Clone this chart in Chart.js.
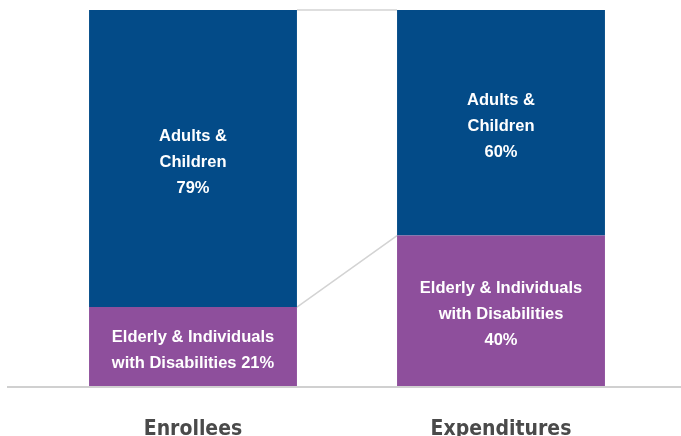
<!DOCTYPE html>
<html>
<head>
<meta charset="utf-8">
<script src="https://cdn.jsdelivr.net/npm/chart.js@4/dist/chart.umd.min.js"></script>
<style>
html,body{margin:0;padding:0;background:#fff;}
#wrap{width:681px;height:436px;position:relative;}
</style>
</head>
<body>
<div id="wrap"><canvas id="c" width="681" height="436"></canvas></div>
<script>
const categories = ["Enrollees", "Expenditures"];
const elderlyValues = [21, 40];
const adultsValues = [79, 60];
const elderlyLabels = [["Elderly & Individuals", "with Disabilities 21%"], ["Elderly & Individuals", "with Disabilities", "40%"]];
const adultsLabels = [["Adults &", "Children", "79%"], ["Adults &", "Children", "60%"]];

const BLUE = "#034b88";
const PURPLE = "#8e4f9c";

const segmentLabels = {
  id: "segmentLabels",
  afterDatasetsDraw(chart) {
    const ctx = chart.ctx;
    ctx.save();
    ctx.fillStyle = "#ffffff";
    ctx.font = "bold 16.5px 'Liberation Sans', Arial, sans-serif";
    ctx.textAlign = "center";
    ctx.textBaseline = "middle";
    const lh = 26;
    chart.data.datasets.forEach((ds, di) => {
      const meta = chart.getDatasetMeta(di);
      meta.data.forEach((el, i) => {
        const lines = ds.segLabels[i];
        const top = Math.min(el.y, el.base), bot = Math.max(el.y, el.base);
        const cy = (top + bot) / 2 + 3.5;
        const start = cy - (lines.length - 1) * lh / 2;
        lines.forEach((t, k) => ctx.fillText(t, el.x, start + k * lh));
      });
    });
    ctx.restore();
  }
};

const connectors = {
  id: "connectors",
  beforeDatasetsDraw(chart) {
    const ctx = chart.ctx;
    const lo = chart.getDatasetMeta(0).data;
    const hi = chart.getDatasetMeta(1).data;
    ctx.save();
    ctx.strokeStyle = "#d3d3d3";
    ctx.lineWidth = 1.5;
    for (let i = 0; i < lo.length - 1; i++) {
      const a = lo[i], b = lo[i + 1];
      ctx.beginPath();
      ctx.moveTo(a.x + a.width / 2, a.y);
      ctx.lineTo(b.x - b.width / 2, b.y);
      ctx.stroke();
      const c = hi[i], d = hi[i + 1];
      ctx.beginPath();
      ctx.moveTo(c.x + c.width / 2, c.y);
      ctx.lineTo(d.x - d.width / 2, d.y);
      ctx.stroke();
    }
    const y0 = chart.scales.y.getPixelForValue(0) + 1;
    ctx.strokeStyle = "#d0d0d0";
    ctx.lineWidth = 2;
    ctx.beginPath();
    ctx.moveTo(7, y0);
    ctx.lineTo(chart.width, y0);
    ctx.stroke();
    ctx.restore();
  }
};

new Chart(document.getElementById("c"), {
  type: "bar",
  data: {
    labels: categories,
    datasets: [
      { label: "Elderly & Individuals with Disabilities", data: elderlyValues, backgroundColor: PURPLE, segLabels: elderlyLabels },
      { label: "Adults & Children", data: adultsValues, backgroundColor: BLUE, segLabels: adultsLabels }
    ]
  },
  options: {
    responsive: false,
    animation: false,
    devicePixelRatio: 1,
    layout: { padding: { left: 39, right: 26, top: 10, bottom: 0 } },
    datasets: { bar: { barPercentage: 0.675, categoryPercentage: 1.0, borderWidth: 0 } },
    plugins: { legend: { display: false }, tooltip: { enabled: false } },
    scales: {
      x: {
        stacked: true,
        grid: { display: false, drawTicks: false },
        border: { display: false },
        ticks: { color: "#4a4a4a", padding: 31, font: { family: "'DejaVu Sans Condensed', 'Liberation Sans', sans-serif", size: 21, weight: "bold" } },
        afterFit(scale) { scale.height = 50; }
      },
      y: {
        stacked: true,
        display: false,
        min: 0,
        max: 100
      }
    }
  },
  plugins: [connectors, segmentLabels]
});
</script>
</body>
</html>
